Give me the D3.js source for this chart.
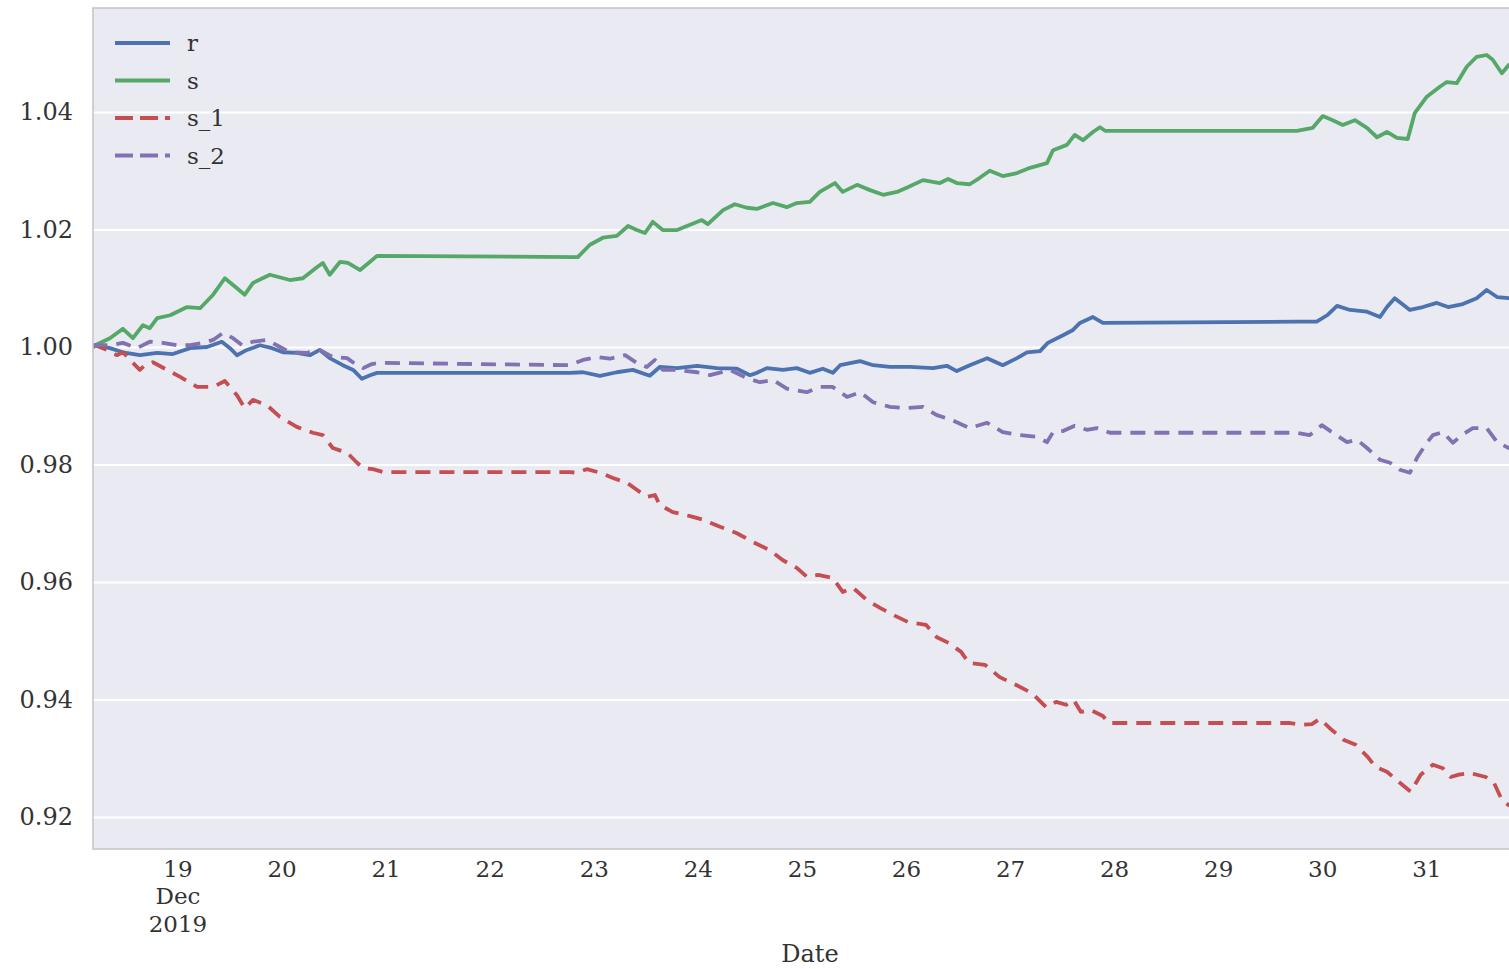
<!DOCTYPE html>
<html>
<head>
<meta charset="utf-8">
<script src="https://cdn.jsdelivr.net/npm/d3@7"></script>
<style>
  body { margin: 0; background: #ffffff; }
  svg { display: block; }
  text { font-family: "DejaVu Serif", serif; fill: #333333; }
</style>
</head>
<body>
<svg id="chart" width="1509" height="969"></svg>
<script>
// Normalised price paths; each point is [hours since 2019-12-18 00:00, value]
const r = [[4.4,1.0],[4.9,1.0003],[8.3,0.9998],[11.3,0.9991],[15.2,0.9986],[19.2,0.9990],[22.8,0.9988],[26.8,0.9998],[30.7,1.0000],[34.1,1.0009],[36.0,0.9998],[37.6,0.9986],[39.9,0.9995],[42.9,1.0003],[45.7,0.9998],[48.2,0.9991],[51.4,0.9990],[54.4,0.9986],[56.7,0.9995],[59.0,0.9981],[62.0,0.9969],[64.4,0.9961],[66.4,0.9946],[68.3,0.9952],[69.9,0.9956],[114.4,0.9956],[117.4,0.9957],[121.3,0.9951],[125.2,0.9957],[128.9,0.9961],[132.8,0.9951],[135.1,0.9966],[139.1,0.9964],[143.7,0.9968],[148.3,0.9964],[152.9,0.9963],[155.9,0.9952],[157.5,0.9956],[159.8,0.9964],[163.5,0.9961],[166.7,0.9964],[169.7,0.9956],[172.7,0.9963],[175.0,0.9956],[176.7,0.9969],[181.3,0.9976],[184.3,0.9969],[188.2,0.9966],[192.8,0.9966],[198.1,0.9964],[201.3,0.9968],[203.6,0.9959],[206.6,0.9969],[210.6,0.9981],[214.2,0.9969],[217.5,0.9981],[219.8,0.9991],[222.8,0.9993],[224.6,1.0007],[228.1,1.0020],[230.4,1.0029],[232.0,1.0041],[235.0,1.0051],[237.3,1.0041],[282.0,1.0043],[286.6,1.0043],[289.0,1.0054],[291.3,1.0070],[294.3,1.0063],[298.2,1.0060],[301.2,1.0051],[302.8,1.0068],[304.6,1.0083],[308.1,1.0063],[311.1,1.0068],[314.3,1.0075],[316.9,1.0068],[320.3,1.0073],[323.5,1.0083],[325.8,1.0097],[328.2,1.0085],[330.9,1.0083],[332.5,1.0083]];

const s = [[4.4,1.0],[4.9,1.0003],[8.3,1.0015],[11.3,1.0031],[13.6,1.0015],[15.9,1.0037],[17.5,1.0032],[19.2,1.0049],[22.2,1.0054],[26.1,1.0068],[29.1,1.0066],[32.1,1.0089],[34.8,1.0117],[37.6,1.0100],[39.4,1.0089],[41.3,1.0109],[45.2,1.0123],[49.8,1.0114],[52.8,1.0117],[56.1,1.0136],[57.4,1.0143],[59.0,1.0123],[61.4,1.0145],[63.2,1.0143],[66.0,1.0131],[68.3,1.0145],[69.9,1.0155],[116.2,1.0153],[119.0,1.0174],[122.0,1.0186],[125.2,1.0189],[127.8,1.0206],[129.8,1.0199],[131.7,1.0194],[133.5,1.0213],[135.8,1.0199],[139.1,1.0199],[142.1,1.0208],[144.8,1.0216],[146.2,1.0209],[149.7,1.0233],[152.4,1.0243],[155.2,1.0237],[157.5,1.0235],[161.2,1.0245],[164.4,1.0238],[166.7,1.0245],[169.7,1.0247],[172.0,1.0264],[175.5,1.0279],[177.3,1.0264],[180.6,1.0276],[183.6,1.0267],[186.6,1.0259],[189.8,1.0264],[192.3,1.0272],[195.8,1.0284],[199.7,1.0279],[201.6,1.0286],[203.6,1.0279],[206.6,1.0277],[208.9,1.0288],[211.2,1.0300],[214.2,1.0291],[217.5,1.0296],[220.5,1.0305],[224.4,1.0313],[225.8,1.0335],[229.0,1.0344],[230.8,1.0361],[232.7,1.0352],[235.0,1.0366],[236.6,1.0374],[237.8,1.0368],[282.0,1.0368],[285.7,1.0373],[288.0,1.0393],[290.3,1.0386],[292.6,1.0378],[295.4,1.0386],[298.2,1.0373],[300.5,1.0357],[302.8,1.0366],[305.1,1.0356],[307.6,1.0354],[309.2,1.0398],[312.0,1.0426],[315.0,1.0443],[316.6,1.0451],[318.9,1.0449],[321.2,1.0477],[323.5,1.0494],[325.8,1.0497],[327.2,1.0489],[329.3,1.0466],[330.9,1.0480],[332.5,1.0475]];

const s_1 = [[4.4,1.0],[4.9,1.0003],[7.6,0.9995],[9.9,0.9986],[11.3,0.9991],[13.6,0.9973],[15.2,0.9961],[16.4,0.9969],[18.2,0.9974],[21.5,0.9961],[24.5,0.9949],[28.4,0.9932],[32.1,0.9932],[34.8,0.9942],[37.6,0.9918],[39.4,0.9896],[41.3,0.9910],[44.5,0.9901],[47.5,0.9881],[51.4,0.9864],[55.1,0.9854],[57.4,0.9850],[59.7,0.9828],[63.0,0.9820],[65.3,0.9803],[66.7,0.9794],[69.0,0.9792],[71.3,0.9787],[114.4,0.9787],[116.0,0.9786],[118.3,0.9792],[121.3,0.9786],[124.3,0.9777],[127.5,0.9769],[129.8,0.9757],[132.1,0.9745],[134.0,0.9748],[135.1,0.9731],[138.1,0.9719],[142.1,0.9712],[145.1,0.9706],[149.0,0.9694],[152.9,0.9683],[156.6,0.9668],[160.5,0.9654],[163.5,0.9637],[166.7,0.9624],[169.0,0.9609],[171.6,0.9612],[175.0,0.9607],[177.3,0.9583],[179.7,0.9590],[182.9,0.9569],[185.9,0.9556],[188.9,0.9544],[192.3,0.9532],[196.5,0.9527],[199.0,0.9506],[201.8,0.9496],[204.6,0.9481],[206.4,0.9462],[210.1,0.9459],[213.5,0.9438],[217.2,0.9425],[220.9,0.9411],[224.2,0.9387],[226.5,0.9396],[228.8,0.9391],[230.6,0.9399],[232.2,0.9379],[234.5,0.9382],[237.3,0.9372],[238.7,0.9360],[280.2,0.9360],[283.0,0.9357],[285.5,0.9358],[287.3,0.9367],[290.1,0.9348],[292.9,0.9331],[295.6,0.9323],[298.4,0.9302],[300.2,0.9285],[302.8,0.9277],[305.5,0.9260],[308.3,0.9243],[310.6,0.9272],[313.4,0.9289],[315.7,0.9283],[317.5,0.9268],[319.4,0.9272],[321.9,0.9275],[325.6,0.9268],[327.5,0.9258],[329.3,0.9229],[330.9,0.9220],[332.5,0.9218]];

const s_2 = [[4.4,1.0],[4.9,1.0003],[8.3,1.0003],[11.3,1.0007],[14.5,0.9998],[17.5,1.0009],[20.5,1.0007],[23.8,1.0003],[26.8,1.0003],[29.8,1.0007],[32.1,1.0012],[34.4,1.0024],[36.7,1.0015],[38.8,1.0003],[41.3,1.0009],[44.5,1.0012],[46.8,1.0003],[49.8,0.9991],[53.7,0.9990],[56.7,0.9995],[59.7,0.9983],[63.0,0.9981],[65.3,0.9969],[66.7,0.9964],[68.7,0.9971],[70.6,0.9973],[114.4,0.9969],[117.4,0.9978],[120.6,0.9983],[123.6,0.9980],[127.1,0.9986],[129.8,0.9973],[132.1,0.9966],[134.0,0.9978],[135.8,0.9961],[139.1,0.9961],[143.7,0.9957],[146.7,0.9952],[151.3,0.9961],[155.2,0.9947],[158.2,0.9940],[161.2,0.9944],[164.4,0.9929],[169.0,0.9923],[172.0,0.9932],[175.0,0.9932],[178.3,0.9915],[181.3,0.9923],[184.3,0.9906],[188.2,0.9898],[192.1,0.9896],[195.8,0.9898],[199.0,0.9884],[202.0,0.9877],[206.6,0.9862],[210.6,0.9871],[214.2,0.9855],[218.2,0.9850],[222.1,0.9847],[224.4,0.9838],[225.8,0.9855],[228.1,0.9857],[230.8,0.9866],[233.6,0.9859],[235.9,0.9862],[238.9,0.9854],[282.0,0.9854],[285.0,0.9850],[287.8,0.9867],[290.3,0.9854],[293.6,0.9838],[295.9,0.9842],[298.2,0.9828],[301.2,0.9808],[303.5,0.9803],[305.8,0.9791],[308.1,0.9786],[309.7,0.9811],[312.0,0.9837],[313.4,0.9850],[315.7,0.9855],[318.0,0.9837],[320.1,0.9850],[322.6,0.9862],[325.8,0.9862],[328.2,0.9838],[330.9,0.9828],[332.5,0.9826]];

const seriesNames = ["r", "s", "s_1", "s_2"];
const seriesData = [r, s, s_1, s_2];
const seriesColors = ["#4C72B0", "#55A868", "#C44E52", "#8172B2"];
const seriesDashed = [false, false, true, true];

const yTicks = [0.92, 0.94, 0.96, 0.98, 1.00, 1.02, 1.04];
const xTickDays = [19, 20, 21, 22, 23, 24, 25, 26, 27, 28, 29, 30, 31];
const timeStartHours = 4.4, timeEndHours = 335.1;
const yLow = 0.91455, yHigh = 1.0577;

const base = new Date(2019, 11, 18, 0, 0, 0);
const toDate = h => new Date(base.getTime() + h * 3600e3);

const plot = { left: 93, top: 8, right: 1527, bottom: 849 };
const svg = d3.select("#chart");

const x = d3.scaleTime()
  .domain([toDate(timeStartHours), toDate(timeEndHours)])
  .range([plot.left, plot.right]);
const y = d3.scaleLinear().domain([yLow, yHigh]).range([plot.bottom, plot.top]);

// plot background
svg.append("rect")
  .attr("x", plot.left).attr("y", plot.top)
  .attr("width", plot.right - plot.left).attr("height", plot.bottom - plot.top)
  .attr("fill", "#EAEAF2");

svg.append("clipPath").attr("id", "plot-clip").append("rect")
  .attr("x", plot.left).attr("y", plot.top)
  .attr("width", plot.right - plot.left).attr("height", plot.bottom - plot.top);

// horizontal grid
const yAxis = d3.axisLeft(y).tickValues(yTicks).tickFormat(d3.format(".2f"))
  .tickSize(-(plot.right - plot.left)).tickPadding(20);
const gy = svg.append("g").attr("transform", `translate(${plot.left},0)`).call(yAxis);
gy.select(".domain").remove();
gy.selectAll(".tick line").attr("stroke", "#ffffff").attr("stroke-width", 2);
gy.selectAll(".tick text")
  .style("font-family", '"DejaVu Serif", serif')
  .attr("font-size", 24).attr("fill", "#333333");

// x axis: day-of-month ticks, first one carries month and year
const xTickDates = xTickDays.map(d => new Date(2019, 11, d));
const gx = svg.append("g").attr("transform", `translate(0,${plot.bottom})`);
xTickDates.forEach((d, i) => {
  const t = gx.append("text")
    .attr("x", x(d)).attr("y", 28)
    .attr("text-anchor", "middle")
    .attr("font-size", 23);
  t.append("tspan").attr("x", x(d)).text(d3.timeFormat("%d")(d));
  if (i === 0) {
    t.append("tspan").attr("x", x(d)).attr("dy", 27).text(d3.timeFormat("%b")(d));
    t.append("tspan").attr("x", x(d)).attr("dy", 28).text(d3.timeFormat("%Y")(d));
  }
});
svg.append("text")
  .attr("x", (plot.left + plot.right) / 2).attr("y", 962)
  .attr("text-anchor", "middle").attr("font-size", 24)
  .text("Date");

// series
const line = d3.line()
  .x(d => x(toDate(d[0])))
  .y(d => y(d[1]));

const lines = svg.append("g").attr("clip-path", "url(#plot-clip)");
seriesData.forEach((data, i) => {
  lines.append("path")
    .datum(data)
    .attr("d", line)
    .attr("fill", "none")
    .attr("stroke", seriesColors[i])
    .attr("stroke-width", 3.8)
    .attr("stroke-linejoin", "round")
    .attr("stroke-dasharray", seriesDashed[i] ? "15,9" : null);
});

// frame
svg.append("rect")
  .attr("x", plot.left).attr("y", plot.top)
  .attr("width", plot.right - plot.left).attr("height", plot.bottom - plot.top)
  .attr("fill", "none").attr("stroke", "#c4c4c4").attr("stroke-width", 1.5);

// legend
const legend = svg.append("g");
seriesNames.forEach((name, i) => {
  const ly = 43 + i * 37.5;
  legend.append("line")
    .attr("x1", 115).attr("x2", 170).attr("y1", ly).attr("y2", ly)
    .attr("stroke", seriesColors[i]).attr("stroke-width", 3.8)
    .attr("stroke-dasharray", seriesDashed[i] ? "18,7" : null);
  legend.append("text")
    .attr("x", 187).attr("y", ly).attr("dy", "0.35em")
    .attr("font-size", 23)
    .text(name);
});
</script>
</body>
</html>
